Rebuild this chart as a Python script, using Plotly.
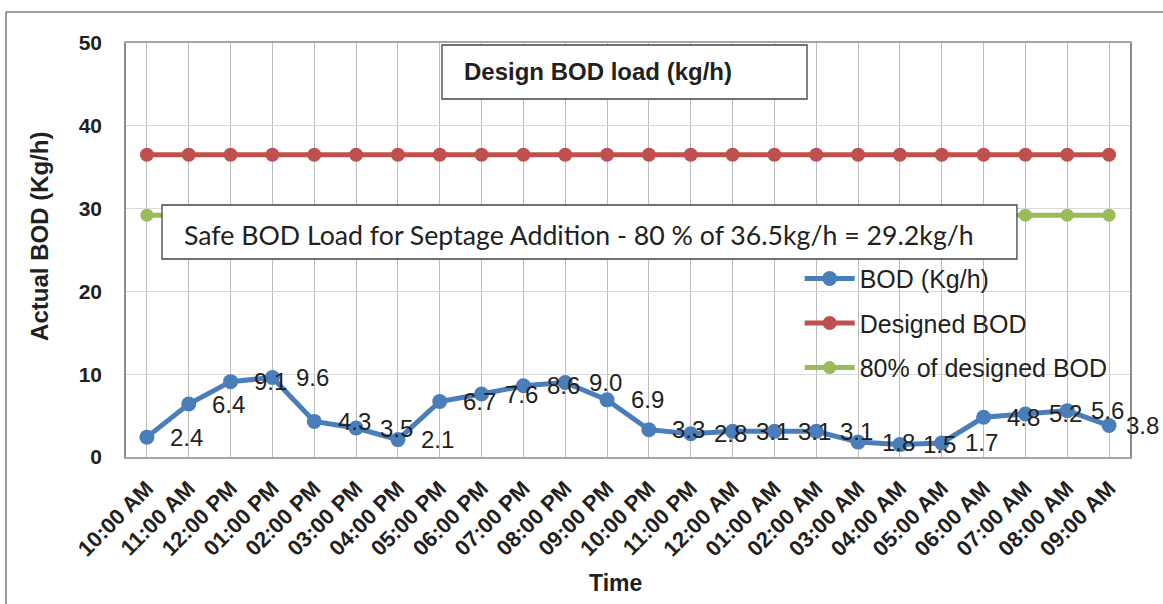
import plotly.graph_objects as go

times = ["10:00 AM", "11:00 AM", "12:00 PM", "01:00 PM", "02:00 PM", "03:00 PM",
         "04:00 PM", "05:00 PM", "06:00 PM", "07:00 PM", "08:00 PM", "09:00 PM",
         "10:00 PM", "11:00 PM", "12:00 AM", "01:00 AM", "02:00 AM", "03:00 AM",
         "04:00 AM", "05:00 AM", "06:00 AM", "07:00 AM", "08:00 AM", "09:00 AM"]
bod = [2.4, 6.4, 9.1, 9.6, 4.3, 3.5, 2.1, 6.7, 7.6, 8.6, 9.0, 6.9,
       3.3, 2.8, 3.1, 3.1, 3.1, 1.8, 1.5, 1.7, 4.8, 5.2, 5.6, 3.8]
designed_bod = [36.5, 36.5, 36.5, 36.5, 36.5, 36.5, 36.5, 36.5, 36.5, 36.5, 36.5, 36.5,
                36.5, 36.5, 36.5, 36.5, 36.5, 36.5, 36.5, 36.5, 36.5, 36.5, 36.5, 36.5]
safe_bod = [29.2, 29.2, 29.2, 29.2, 29.2, 29.2, 29.2, 29.2, 29.2, 29.2, 29.2, 29.2,
            29.2, 29.2, 29.2, 29.2, 29.2, 29.2, 29.2, 29.2, 29.2, 29.2, 29.2, 29.2]
y_ticks = [0, 10, 20, 30, 40, 50]

BLUE = "#4a7ebb"
RED = "#c0504d"
GREEN = "#9bbb59"
TXT = "#231f20"
ARIAL = "Arial, Liberation Sans, sans-serif"

fig = go.Figure()
fig.add_trace(go.Scatter(x=times, y=bod, name="BOD (Kg/h)", mode="lines+markers",
                         line=dict(color=BLUE, width=5), marker=dict(color=BLUE, size=15),
                         legendgroup="a"))
fig.add_trace(go.Scatter(x=times, y=designed_bod, name="Designed BOD", mode="lines+markers",
                         line=dict(color=RED, width=5), marker=dict(color=RED, size=14),
                         legendgroup="b"))
fig.add_trace(go.Scatter(x=times, y=safe_bod, name="80% of designed BOD", mode="lines+markers",
                         line=dict(color=GREEN, width=5), marker=dict(color=GREEN, size=13),
                         legendgroup="c"))

annotations = []
for i, (t, v) in enumerate(zip(times, bod)):
    annotations.append(dict(x=t, y=v, xref="x", yref="y", text=f"{v:.1f}", showarrow=False,
                            xshift=40 if i < len(times) - 1 else 33,
                            font=dict(family=ARIAL, size=24, color=TXT)))

# Boxes (drawn as shapes above the traces), texts as annotations
shapes = [
    dict(type="rect", xref="paper", yref="paper", x0=-0.1195, y0=-0.45, x1=1.06, y1=1.0749,
         line=dict(color="#3a3a3a", width=1), fillcolor="rgba(0,0,0,0)", layer="below"),
    dict(type="rect", xref="paper", yref="paper", x0=0.3147, y0=0.8647, x1=0.6783, y1=0.9952,
         line=dict(color="#444444", width=1.3), fillcolor="white", layer="above"),
    dict(type="rect", xref="paper", yref="paper", x0=0.03586, y0=0.4783, x1=0.8874, y1=0.6087,
         line=dict(color="#444444", width=1.3), fillcolor="white", layer="above"),
]
annotations.append(dict(x=0.3347, y=0.930, xref="paper", yref="paper", xanchor="left",
                        yanchor="middle", showarrow=False, text="Design BOD load (kg/h)",
                        font=dict(family=ARIAL, size=24, color=TXT, weight="bold")))
annotations.append(dict(x=0.0558, y=0.5362, xref="paper", yref="paper", xanchor="left",
                        yanchor="middle", showarrow=False,
                        text="Safe BOD Load for Septage Addition - 80 % of 36.5kg/h = 29.2kg/h",
                        font=dict(family="Lato", size=26.7, color=TXT)))
annotations.append(dict(x=0.488, y=-0.304, xref="paper", yref="paper", xanchor="center",
                        yanchor="middle", showarrow=False, text="Time",
                        font=dict(family=ARIAL, size=23, color=TXT, weight="bold")))
annotations.append(dict(x=-0.0857, y=0.534, xref="paper", yref="paper", xanchor="center",
                        yanchor="middle", showarrow=False, text="Actual BOD (Kg/h)", textangle=-90,
                        font=dict(family=ARIAL, size=24, color=TXT, weight="bold")))

fig.update_layout(
    width=1163, height=604,
    margin=dict(l=126, r=33, t=43, b=147),
    paper_bgcolor="white", plot_bgcolor="white",
    showlegend=True,
    legend=dict(x=0.671, y=0.486, xanchor="left", yanchor="top", bgcolor="rgba(0,0,0,0)",
                font=dict(family=ARIAL, size=25, color=TXT), tracegroupgap=9,
                itemwidth=50),
    annotations=annotations,
    shapes=shapes,
    xaxis=dict(type="category", range=[-0.5, len(times) - 0.5], tickangle=-45,
               showgrid=True, gridcolor="#bdbdbd", gridwidth=1.3,
               showline=True, linecolor="#a6a6a6", linewidth=1.5, mirror=True,
               ticks="", tickfont=dict(family=ARIAL, size=22, color=TXT, weight="bold"),
               ticklabelstandoff=8),
    yaxis=dict(range=[0, 50], tickvals=y_ticks, showgrid=True, gridcolor="#d9d9d9", gridwidth=1.3,
               showline=True, linecolor="#8c8c8c", linewidth=1.5, mirror=True, zeroline=False,
               ticks="", tickfont=dict(family=ARIAL, size=21, color=TXT, weight="bold"),
               ticklabelstandoff=18),
)

fig.write_html("out.html", config={"displayModeBar": False},
               post_script="document.body.style.margin='0px';")
